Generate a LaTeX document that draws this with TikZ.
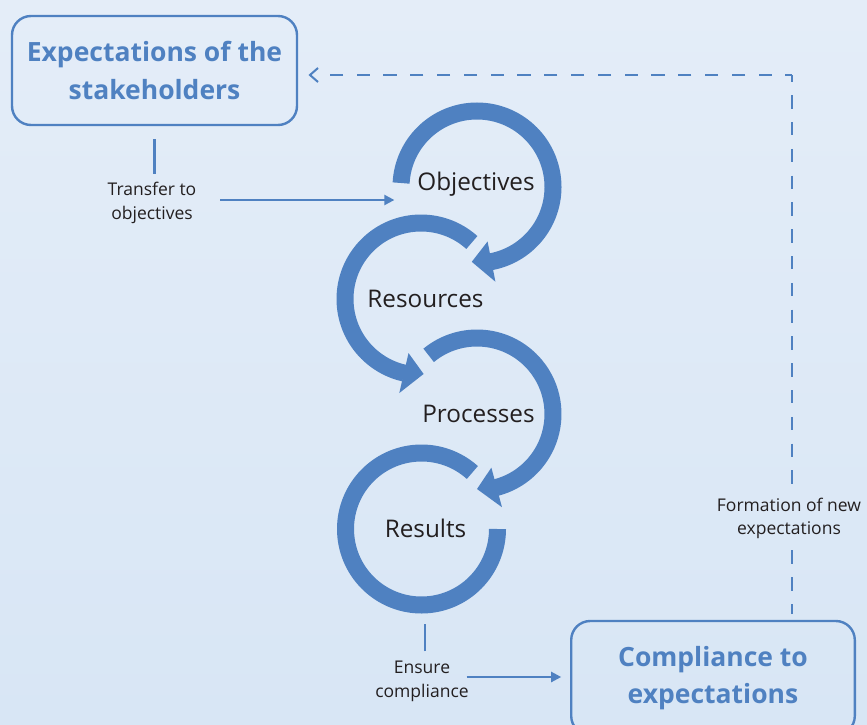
\documentclass[tikz,border=0pt]{standalone}
\usepackage{fontspec}
\setmainfont{Open Sans}
\usetikzlibrary{arrows.meta,calc}
\definecolor{mblue}{RGB}{79,129,193}
\definecolor{txt}{RGB}{35,31,32}
\definecolor{bgtop}{RGB}{228,237,248}
\definecolor{bgbot}{RGB}{216,230,245}
\tikzset{
  band/.style={line width=17pt, draw=mblue},
  hbox/.style={draw=mblue, line width=2.4pt, rounded corners=19pt, text=mblue,
    font=\fontsize{26.5}{38}\selectfont\bfseries, align=center,
    minimum width=285pt, inner sep=0pt, outer sep=0pt},
  lbl/.style={font=\fontsize{17.5}{23.5}\selectfont, text=txt, align=center, inner sep=0pt, outer sep=0pt},
  clbl/.style={font=\fontsize{24.3}{29}\selectfont, text=txt, inner sep=0pt, outer sep=0pt, anchor=base},
  conn/.style={draw=mblue, line width=2.2pt},
  tip/.style={-{Triangle[length=10pt,width=10pt]}},
  dsh/.style={draw=mblue, line width=2.6pt, dash pattern=on 13.3pt off 13.5pt},
  chev/.style={draw=mblue, line width=2pt}
}
\begin{document}
\begin{tikzpicture}[x=1pt,y=1pt]
\clip (0,0) rectangle (867,-725);
\shade[top color=bgtop, bottom color=bgbot] (0,0) rectangle (867,-725);

% boxes
\node[hbox, minimum height=109pt] (box1) at (154.5,-70.5) {Expectations of the\\stakeholders};
\node[hbox, minimum width=283.6pt, minimum height=114pt, font=\fontsize{26.5}{36.5}\selectfont\bfseries] (comp) at (713,-678) {Compliance to\\expectations};

% circular arrows
\begin{scope}[shift={(477,-187)}]
  \draw[band] (177:76) arc[start angle=177, end angle=-79.4, radius=76];
  \fill[mblue] (-79:55.5) -- (-79:96.5) -- (-94:75) -- cycle;
\end{scope}
\begin{scope}[shift={(421,-299)}]
  \draw[band] (48:76) arc[start angle=48, end angle=257.4, radius=76];
  \fill[mblue] (257:55.5) -- (257:96.5) -- (272:75) -- cycle;
\end{scope}
\begin{scope}[shift={(477,-414)}]
  \draw[band] (129.5:76) arc[start angle=129.5, end angle=-75.4, radius=76];
  \fill[mblue] (-75:55.5) -- (-75:96.5) -- (-90:75) -- cycle;
\end{scope}
\begin{scope}[shift={(421.5,-529)}]
  \draw[band] (48:76) arc[start angle=48, end angle=360, radius=76];
\end{scope}

% circle labels
\node[clbl] (obj) at (476,-190) {Objectives};
\node[clbl] (res) at (425.5,-307) {Resources};
\node[clbl] (proc) at (478.5,-422) {Processes};
\node[clbl] (resu) at (425.5,-537) {Results};

% side labels
\node[lbl] (transfer) at (152,-203) {Transfer to\\objectives};
\node[lbl] (ensure) at (422,-681.5) {Ensure\\compliance};
\node[lbl] (form) at (789,-518.5) {Formation of new\\expectations};

% connectors
\draw[conn, shorten <=14pt, shorten >=8pt] (box1.south) -- (box1.south |- transfer.north);
\draw[conn, tip] ([shift={(24pt,3pt)}]transfer.east) -- ([shift={(-23pt,3pt)}]obj.west |- transfer.east);
\draw[conn] ([shift={(3pt,10pt)}]ensure.north) -- ++(0,27);
\coordinate (es) at ([shift={(-2pt,4.5pt)}]ensure.east);
\draw[conn, tip, shorten >=10pt] (es) -- (comp.west |- es);

% dashed feedback
\coordinate (corner) at (792,-75);
\coordinate (ftop) at ([yshift=14pt]form.north);
\coordinate (fbot) at ([yshift=-10pt]form.south);
\coordinate (ctop) at ([yshift=7pt]comp.north);
\coordinate (b1e) at (corner -| box1.east);
\draw[dsh, dash phase=3.3pt] (ctop -| corner) -- (fbot -| corner);
\draw[dsh, dash phase=6.6pt] (corner) -- (ftop -| corner);
\draw[dsh, dash phase=6.6pt] (corner) -- ([xshift=32pt]b1e);
\draw[chev] ([shift={(21pt,7pt)}]b1e) -- ([xshift=13pt]b1e) -- ([shift={(21pt,-7pt)}]b1e);
\end{tikzpicture}
\end{document}
